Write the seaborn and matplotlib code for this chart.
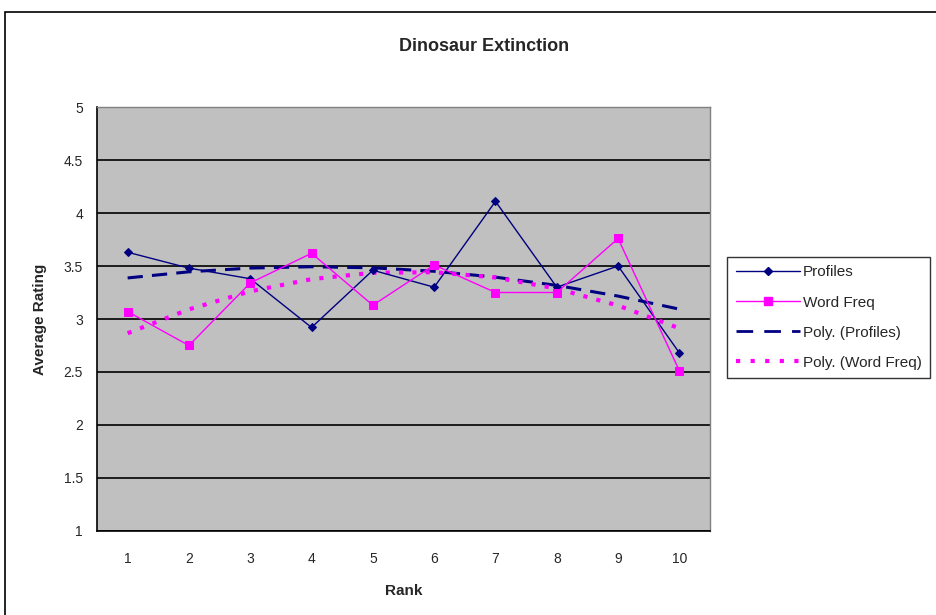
import numpy as np
import pandas as pd
import matplotlib
matplotlib.use('Agg')
import matplotlib.pyplot as plt
from matplotlib.patches import Rectangle
from matplotlib.lines import Line2D
import seaborn as sns

# values
rank = [1, 2, 3, 4, 5, 6, 7, 8, 9, 10]
profiles = [3.63, 3.48, 3.38, 2.92, 3.46, 3.30, 4.11, 3.30, 3.50, 2.68]
word_freq = [3.07, 2.75, 3.34, 3.62, 3.13, 3.51, 3.25, 3.25, 3.76, 2.51]

NAVY = '#000080'
MAGENTA = '#FF00FF'

sns.set_style('white')
plt.rcParams['font.family'] = ['Liberation Sans', 'DejaVu Sans']

df = pd.DataFrame({'Rank': rank * 2,
                   'Rating': profiles + word_freq,
                   'Series': ['Profiles'] * 10 + ['Word Freq'] * 10})

fig = plt.figure(figsize=(9.36, 6.15), dpi=100)
ax = fig.add_axes([0.1036, 0.1366, 0.655, 0.6894])
ax.set_facecolor('#C0C0C0')

# Excel-like polynomial trendlines (order 2)
xs = np.array(rank, dtype=float)
trend_p = np.polyval(np.polyfit(xs, profiles, 2), xs)
trend_w = np.polyval(np.polyfit(xs, word_freq, 2), xs)
ax.plot(xs, trend_p, color=NAVY, lw=2.2, ls=(0, (5, 3)), zorder=3)
ax.plot(xs, trend_w, color=MAGENTA, lw=3, ls=(0, (1, 2.2)), zorder=3)

sns.lineplot(data=df[df.Series == 'Profiles'], x='Rank', y='Rating', ax=ax,
             color=NAVY, lw=1, marker='D', markersize=4.5,
             markeredgecolor=NAVY, zorder=4, legend=False)
sns.lineplot(data=df[df.Series == 'Word Freq'], x='Rank', y='Rating', ax=ax,
             color=MAGENTA, lw=1, marker='s', markersize=6,
             markeredgecolor=MAGENTA, zorder=4, legend=False)

ax.set_xlim(0.5, 10.5)
ax.set_ylim(1, 5)
ax.set_yticks(np.arange(1, 5.01, 0.5))
ax.set_yticklabels(['1', '1.5', '2', '2.5', '3', '3.5', '4', '4.5', '5'])
ax.set_xticks(rank)
ax.set_xticks(np.arange(0.5, 10.6, 1), minor=True)
ax.tick_params(axis='x', which='major', length=0, pad=15, labelsize=10)
ax.tick_params(axis='x', which='minor', length=5, direction='out', color='black')
ax.tick_params(axis='y', length=4, direction='inout', color='black', labelsize=10, pad=8)
ax.grid(axis='y', color='black', lw=1.2)
ax.set_axisbelow(True)
for side in ['top', 'right']:
    ax.spines[side].set_color('#808080')
    ax.spines[side].set_linewidth(1)
for side in ['left', 'bottom']:
    ax.spines[side].set_color('black')
    ax.spines[side].set_linewidth(1.2)

ax.set_xlabel('Rank', fontsize=11, fontweight='bold', labelpad=13)
ax.set_ylabel('Average Rating', fontsize=11, fontweight='bold', labelpad=12)
fig.text(0.5171, 0.925, 'Dinosaur Extinction', ha='center', va='center',
         fontsize=13, fontweight='bold')

handles = [
    Line2D([], [], color=NAVY, lw=1, marker='D', markersize=4.5),
    Line2D([], [], color=MAGENTA, lw=1, marker='s', markersize=6),
    Line2D([], [], color=NAVY, lw=2, ls=(0, (6, 4))),
    Line2D([], [], color=MAGENTA, lw=3, ls=(0, (1, 2.5))),
]
labels = ['Profiles', 'Word Freq', 'Poly. (Profiles)', 'Poly. (Word Freq)']
leg = fig.legend(handles, labels, loc='upper left', bbox_to_anchor=(0.777, 0.582),
                 frameon=True, fancybox=False, edgecolor='black', fontsize=11,
                 handlelength=4.2, handletextpad=0.2, borderpad=0.55,
                 labelspacing=1.05, borderaxespad=0)
leg.get_frame().set_linewidth(1)

# outer chart border
fig.patches.append(Rectangle((0.005, -0.1), 1.2, 1.081, transform=fig.transFigure,
                             fill=False, edgecolor='black', lw=1.2))

fig.savefig('out.png', dpi=100)
